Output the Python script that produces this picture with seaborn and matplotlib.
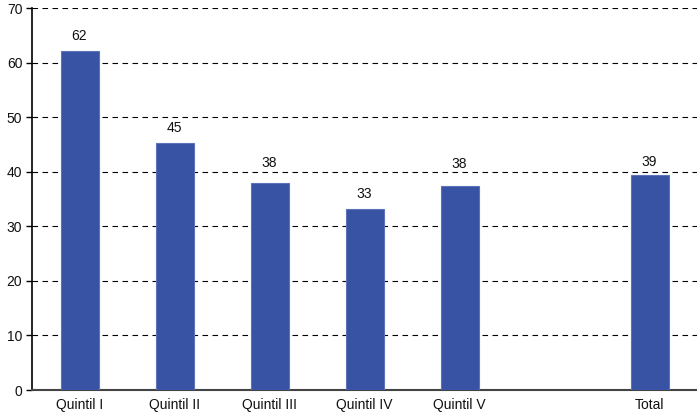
import numpy as np
import pandas as pd
import matplotlib.pyplot as plt
import seaborn as sns

# datos
categorias = ["Quintil I", "Quintil II", "Quintil III", "Quintil IV", "Quintil V", "", "Total"]
barras = ["Quintil I", "Quintil II", "Quintil III", "Quintil IV", "Quintil V", "Total"]
valores = [62.2, 45.3, 37.9, 33.2, 37.4, 39.4]
etiquetas = ["62", "45", "38", "33", "38", "39"]
yticks = [0, 10, 20, 30, 40, 50, 60, 70]

# desplazamiento vertical de cada etiqueta sobre la barra (unidades del eje)
desplaz = [2.6, 2.7, 3.7, 2.7, 4.0, 2.4]


def main():
    sns.set_theme(style="white")
    plt.rcParams['font.family'] = ['Liberation Sans', 'DejaVu Sans']

    df = pd.DataFrame({"cat": barras, "val": valores})

    fig = plt.figure(figsize=(6.97, 4.12), dpi=100)
    ax = fig.add_axes([32 / 697, 22 / 412, 1 - 32 / 697, 382 / 412])

    sns.barplot(data=df, x="cat", y="val", order=categorias, color="#3953a4",
                saturation=1, width=0.4, edgecolor="#5d72b9", linewidth=0.8, ax=ax, zorder=3)

    bars = [p for p in ax.patches if not np.isnan(p.get_height())]
    for b, txt, d in zip(bars, etiquetas, desplaz):
        ax.text(b.get_x() + b.get_width() / 2, b.get_height() + d, txt,
                ha="center", va="center", fontsize=10, color="#111111")

    ax.set_ylim(0, 70)
    ax.set_xlim(-0.5, len(categorias) - 0.5)
    ax.set_yticks(yticks)
    ax.yaxis.grid(True, linestyle=(0, (5, 4)), color="black", linewidth=0.8)
    ax.set_axisbelow(True)

    ax.set_xlabel("")
    ax.set_ylabel("")
    ax.tick_params(axis="x", which="major", length=0, labelsize=10, pad=6, colors="#111111")
    ax.set_xticks(np.arange(0.5, len(categorias) - 1), minor=True)
    ax.tick_params(axis="x", which="minor", length=4, width=1, color="#333333", direction="out")
    ax.tick_params(axis="y", length=4, width=1, labelsize=10, direction="out", pad=3,
                   colors="#111111", left=True)
    ax.tick_params(axis="y", color="black")

    for s in ["top", "right"]:
        ax.spines[s].set_visible(False)
    ax.spines["left"].set_color("black")
    ax.spines["left"].set_linewidth(1.2)
    ax.spines["bottom"].set_color("#444444")
    ax.spines["bottom"].set_linewidth(1.5)

    fig.savefig("out.png", dpi=100)
    plt.close(fig)


if __name__ == "__main__":
    main()
